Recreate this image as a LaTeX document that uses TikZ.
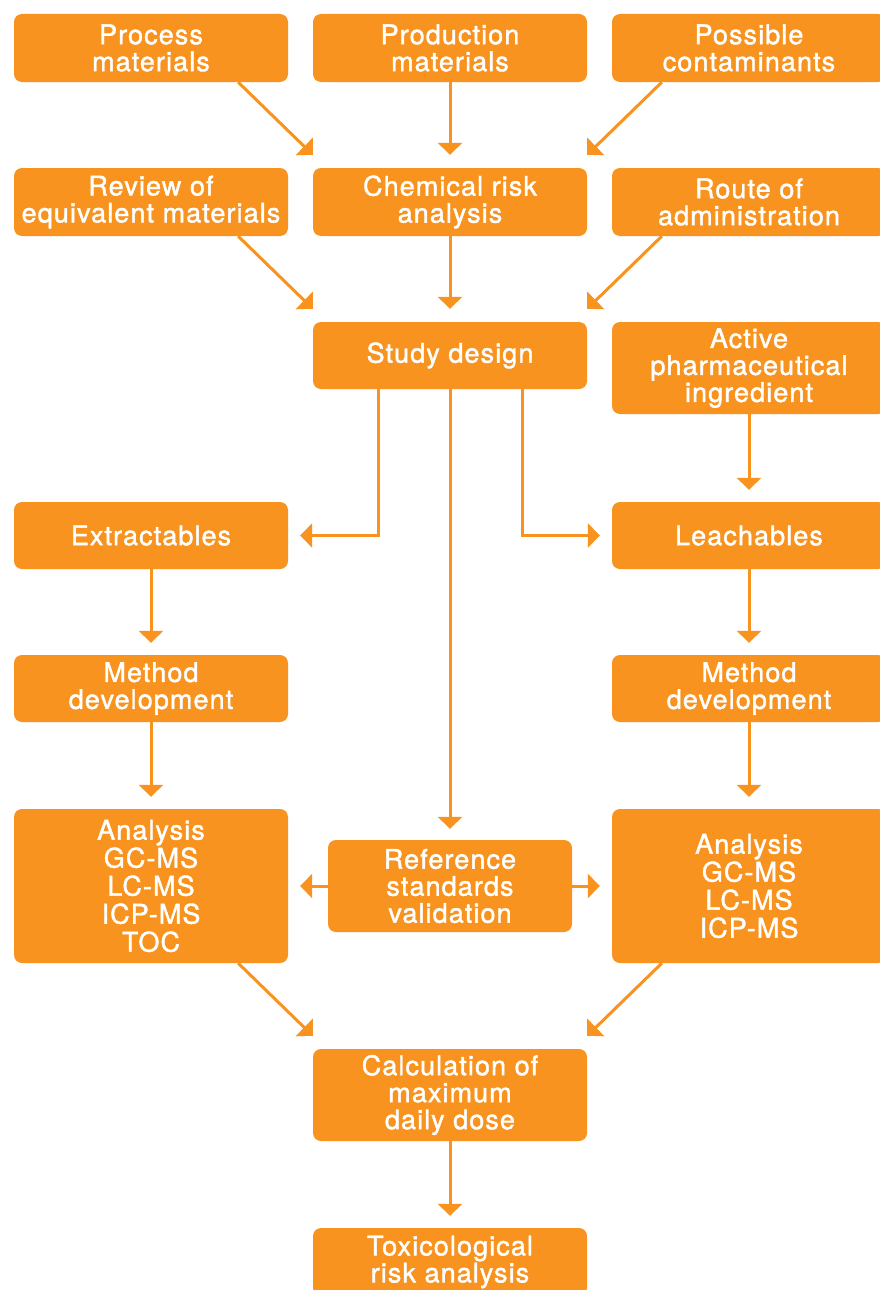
\documentclass[tikz,border=0pt]{standalone}
\usepackage{fontspec}
\newfontfamily\boxfont{TeX Gyre Heros}[FakeBold=1.5,LetterSpace=4]
\usetikzlibrary{positioning,arrows.meta,calc}
\definecolor{flow_orange}{RGB}{247,147,30}
\tikzset{
  box/.style={fill=flow_orange, rounded corners=8pt, inner sep=0pt, text=white, align=center,
    minimum width=274pt, minimum height=68pt, font=\boxfont\fontsize{27}{27}\selectfont},
  flow/.style={draw=flow_orange, line width=3pt, -{Triangle[length=12pt,width=24pt]}}
}
\begin{document}
\begin{tikzpicture}[x=1pt,y=-1pt]
\useasboundingbox (0,0) rectangle (879,1290);
\node[box] (node_proc) at (151,48) {Process\\materials};
\node[box] (node_prod) at (450,48) {Production\\materials};
\node[box] (node_cont) at (749,48) {Possible\\contaminants};
\node[box] (node_rev) at (151,202) {Review of\\equivalent materials};
\node[box] (node_chem) at (450,202) {Chemical risk\\analysis};
\node[box] (node_route) at (749,202) {Route of\\administration};
\node[box, minimum height=67pt] (node_study) at (450,355.5) {Study design};
\node[box, minimum height=92pt] (node_api) at (749,368) {Active\\pharmaceutical\\ingredient};
\node[box, minimum height=67pt] (node_extr) at (151,535.5) {Extractables};
\node[box, minimum height=67pt] (node_leach) at (749,535.5) {Leachables};
\node[box, minimum height=67pt] (node_meth_l) at (151,688.5) {Method\\development};
\node[box, minimum height=67pt] (node_meth_r) at (749,688.5) {Method\\development};
\node[box, minimum height=154pt, font=\boxfont\fontsize{27}{28}\selectfont] (node_anal_l) at (151,886) {Analysis\\GC-MS\\LC-MS\\ICP-MS\\TOC};
\node[box, minimum width=244pt, minimum height=92pt] (node_ref) at (450,886) {Reference\\standards\\validation};
\node[box, minimum height=154pt, font=\boxfont\fontsize{27}{28}\selectfont] (node_anal_r) at (749,886) {Analysis\\GC-MS\\LC-MS\\ICP-MS};
\node[box, minimum height=92pt] (node_calc) at (450,1095) {Calculation of\\maximum\\daily dose};
\node[box] (node_tox) at (450,1262) {Toxicological\\risk analysis};
\draw[flow] ($(node_proc.south east)+(-50,0)$) -- ($(node_chem.north west)+(0,-13)$);
\draw[flow] (node_prod) -- ($(node_chem.north)+(0,-13)$);
\draw[flow] ($(node_cont.south west)+(50,0)$) -- ($(node_chem.north east)+(0,-13)$);
\draw[flow] ($(node_rev.south east)+(-50,0)$) -- ($(node_study.north west)+(0,-13)$);
\draw[flow] (node_chem) -- ($(node_study.north)+(0,-13)$);
\draw[flow] ($(node_route.south west)+(50,0)$) -- ($(node_study.north east)+(0,-13)$);
\draw[flow] ($(node_study.south)+(-72,0)$) |- ($(node_extr.east)+(12,0)$);
\draw[flow] ($(node_study.south)+(72,0)$) |- ($(node_leach.west)+(-12,0)$);
\draw[flow] (node_study) -- ($(node_ref.north)+(0,-11)$);
\draw[flow] (node_api) -- ($(node_leach.north)+(0,-12)$);
\draw[flow] (node_extr) -- ($(node_meth_l.north)+(0,-12)$);
\draw[flow] (node_leach) -- ($(node_meth_r.north)+(0,-12)$);
\draw[flow] (node_meth_l) -- ($(node_anal_l.north)+(0,-12)$);
\draw[flow] (node_meth_r) -- ($(node_anal_r.north)+(0,-12)$);
\draw[flow] (node_ref) -- ($(node_anal_l.east)+(12,0)$);
\draw[flow] (node_ref) -- ($(node_anal_r.west)+(-12,0)$);
\draw[flow] ($(node_anal_l.south east)+(-50,0)$) -- ($(node_calc.north west)+(0,-13)$);
\draw[flow] ($(node_anal_r.south west)+(50,0)$) -- ($(node_calc.north east)+(0,-13)$);
\draw[flow] (node_calc) -- ($(node_tox.north)+(0,-12)$);
\end{tikzpicture}
\end{document}
